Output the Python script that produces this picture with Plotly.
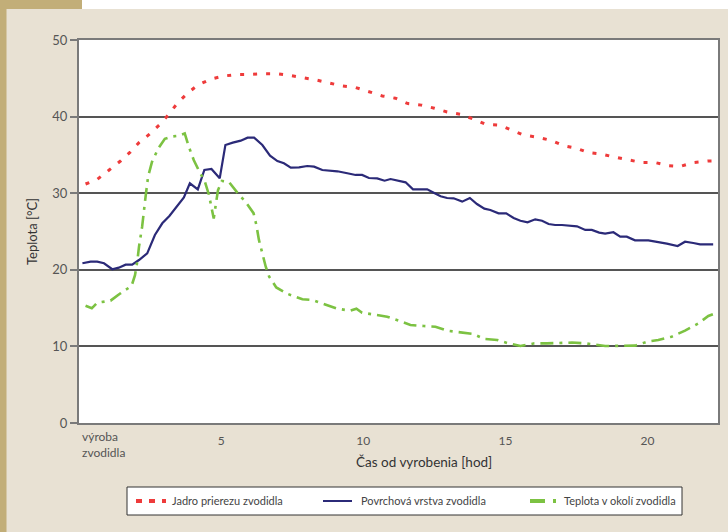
import plotly.graph_objects as go

# ---- data ----
red_x = [0.23, 0.64, 1.05, 1.46, 1.81, 2.11, 2.48, 2.85, 3.16, 3.45, 3.80, 4.17, 4.64, 5.10, 5.57, 5.98, 6.50, 6.95,
         7.39, 7.86, 8.32, 8.79, 9.26, 9.73, 10.20, 10.67, 11.13, 11.57, 12.04, 12.50, 12.95, 13.42, 13.86, 14.30,
         14.79, 15.26, 15.64, 16.13, 16.60, 17.05, 17.48, 17.92, 18.39, 18.86, 19.33, 19.80, 20.27, 20.73, 21.15,
         21.61, 22.14, 22.40]
red_y = [31.2, 31.8, 33.0, 34.2, 35.4, 36.6, 37.7, 39.0, 40.3, 41.7, 43.0, 44.1, 44.9, 45.3, 45.5, 45.5, 45.6, 45.6,
         45.4, 45.1, 44.8, 44.4, 44.0, 43.8, 43.2, 42.7, 42.4, 41.7, 41.5, 41.1, 40.6, 40.3, 39.7, 39.0,
         38.9, 38.2, 37.6, 37.3, 36.9, 36.2, 35.9, 35.3, 35.1, 34.7, 34.4, 34.0, 34.0, 33.6, 33.5,
         34.0, 34.2, 34.2]

blue_x = [0.12, 0.41, 0.64, 0.88, 1.17, 1.40, 1.64, 1.87, 2.11, 2.40, 2.67, 2.93, 3.18, 3.45, 3.69, 3.90, 4.18,
          4.41, 4.66, 4.95, 5.15, 5.41, 5.69, 5.93, 6.16, 6.45, 6.72, 6.98, 7.21, 7.45, 7.74, 8.03, 8.27, 8.56,
          8.85, 9.09, 9.44, 9.73, 9.96, 10.20, 10.49, 10.75, 10.96, 11.25, 11.49, 11.75, 12.01, 12.25, 12.48,
          12.72, 12.95, 13.18, 13.48, 13.75, 14.00, 14.26, 14.47, 14.76, 15.03, 15.29, 15.53, 15.78, 16.05,
          16.29, 16.52, 16.75, 16.99, 17.28, 17.52, 17.81, 18.04, 18.30, 18.51, 18.80, 19.04, 19.27, 19.56,
          20.03, 20.33, 20.68, 21.06, 21.32, 21.61, 21.85, 22.31]
blue_y = [20.85, 21.06, 21.06, 20.85, 20.07, 20.28, 20.67, 20.67, 21.28, 22.15, 24.54, 26.07, 27.02, 28.24, 29.46,
          31.29, 30.50, 33.03, 33.16, 31.94, 36.29, 36.60, 36.86, 37.25, 37.25, 36.29, 34.90, 34.20, 33.90,
          33.33, 33.38, 33.55, 33.46, 33.03, 32.90, 32.86, 32.60, 32.38, 32.38, 31.98, 31.94, 31.63, 31.85,
          31.60, 31.42, 30.50, 30.55, 30.50, 30.07, 29.60, 29.37, 29.33, 28.90, 29.37, 28.59, 27.98, 27.80,
          27.37, 27.37, 26.76, 26.41, 26.20, 26.59, 26.41, 25.98, 25.85, 25.85, 25.72, 25.68, 25.20, 25.20,
          24.85, 24.72, 24.90, 24.33, 24.33, 23.85, 23.85, 23.67, 23.41, 23.11, 23.67, 23.50, 23.33, 23.33]

green_x = [0.23, 0.45, 0.64, 1.11, 1.46, 1.85, 1.97, 2.05, 2.11, 2.22, 2.34, 2.43, 2.57, 2.79, 3.02, 3.28, 3.51,
           3.72, 3.86, 4.04, 4.21, 4.43, 4.57, 4.68, 4.74, 4.80, 4.89, 5.03, 5.27, 5.57, 5.87, 6.14, 6.24, 6.33,
           6.45, 6.57, 6.69, 6.94, 7.35, 7.86, 8.21, 8.65, 9.09, 9.55, 9.76, 9.96, 10.37, 10.84, 11.25, 11.66,
           12.13, 12.54, 12.95, 13.36, 13.86, 14.26, 14.71, 15.11, 15.53, 16.02, 16.46, 17.34, 17.81, 18.51,
           19.10, 19.56, 20.03, 20.38, 20.85, 21.32, 21.79, 22.14, 22.30]
green_y = [15.3, 14.97, 15.7, 15.97, 16.93, 17.9, 19.3, 21.06, 23.0, 25.6, 29.5, 32.15, 34.1, 35.86, 37.1, 37.4,
           37.5, 37.8, 36.1, 34.3, 33.0, 31.5, 29.8, 27.8, 26.7, 28.2, 30.4, 31.6, 31.5, 30.07, 28.8, 27.4,
           25.85, 23.9, 22.2, 20.4, 19.1, 17.7, 16.84, 16.15, 16.06, 15.5, 14.92, 14.66, 14.92, 14.4, 14.2,
           13.88, 13.36, 12.8, 12.66, 12.57, 12.05, 11.88, 11.62, 10.97, 10.84, 10.4, 10.05, 10.4, 10.4, 10.5,
           10.4, 10.05, 10.1, 10.1, 10.66, 10.84, 11.27, 12.05, 13.0, 13.97, 14.2]

names = ["Jadro prierezu zvodidla", "Povrchová vrstva zvodidla", "Teplota v okolí zvodidla"]
x_ticks = [5, 10, 15, 20]
y_ticks = [0, 10, 20, 30, 40, 50]
start_label = "výroba<br>zvodidla"
x_title = "Čas od vyrobenia [hod]"
y_title = "Teplota [°C]"

W, H = 728, 532
L, R, T, B = 79, 10, 40, 109
PW, PH = W - L - R, H - T - B

def px(xp):
    return (xp - L) / PW

def py(yp):
    return 1 - (yp - T) / PH

FONT = "Lato"
GREY = "#555555"
COLORS = ["#ee3b3b", "#2b2a78", "#7cc242"]
DASHES = ["4px,9px", "solid", "13px,6px,3px,6px"]
WIDTHS = [3, 2.2, 2.6]

fig = go.Figure()
for xs, ys, nm, c, d, w in zip([red_x, blue_x, green_x], [red_y, blue_y, green_y], names, COLORS, DASHES, WIDTHS):
    fig.add_trace(go.Scatter(x=xs, y=ys, name=nm, mode="lines", line=dict(color=c, width=w, dash=d)))

shapes = [
    dict(type="rect", xref="paper", yref="paper", x0=px(0), x1=px(6.5), y0=py(H), y1=py(0),
         fillcolor="#c2ae78", line=dict(width=0), layer="above"),
    dict(type="rect", xref="paper", yref="paper", x0=px(0), x1=px(82), y0=py(9), y1=py(0),
         fillcolor="#c2ae78", line=dict(width=0), layer="above"),
    dict(type="rect", xref="paper", yref="paper", x0=px(82), x1=px(W), y0=py(9), y1=py(0),
         fillcolor="#ffffff", line=dict(width=0), layer="above"),
    # legend box
    dict(type="rect", xref="paper", yref="paper", x0=px(127), x1=px(682), y0=py(515), y1=py(487),
         fillcolor="#ffffff", line=dict(color="#333333", width=1), layer="above"),
]
# legend symbols
leg_sym = [(136, 166, "6px,7px", 4), (323, 352, "solid", 2), (530, 557, "15px,8px,3px,8px", 4)]
for (a, b, d, w), c in zip(leg_sym, COLORS):
    shapes.append(dict(type="line", xref="paper", yref="paper", x0=px(a), x1=px(b), y0=py(501), y1=py(501),
                       line=dict(color=c, width=w, dash=d), layer="above"))

annotations = [
    dict(x=0, xref="x", y=py(427), yref="paper", text=start_label, showarrow=False,
         xanchor="left", yanchor="top", align="left", xshift=1,
         font=dict(family=FONT, size=12, color=GREY)),
    dict(x=px(424), xref="paper", y=py(462), yref="paper", text=x_title, showarrow=False,
         xanchor="center", yanchor="middle", font=dict(family=FONT, size=13.5, color="#333333")),
    dict(x=px(32), xref="paper", y=py(231), yref="paper", text=y_title, showarrow=False, textangle=-90,
         xanchor="center", yanchor="middle", font=dict(family=FONT, size=13, color="#333333")),
]
for nm, xs in zip(names, [172, 361, 564]):
    annotations.append(dict(x=px(xs), xref="paper", y=py(501), yref="paper", text=nm, showarrow=False,
                            xanchor="left", yanchor="middle", xshift=-2,
                            font=dict(family=FONT, size=11, color="#444444")))

fig.update_layout(
    width=W, height=H,
    margin=dict(l=L, r=R, t=T, b=B, pad=0, autoexpand=False),
    paper_bgcolor="#e8e1d3",
    plot_bgcolor="#ffffff",
    font=dict(family=FONT, size=12, color=GREY),
    showlegend=False,
    shapes=shapes,
    annotations=annotations,
    xaxis=dict(range=[0, 22.48], tickvals=x_ticks, ticks="", showgrid=False, zeroline=False,
               showline=True, mirror=True, linecolor="#7a7a7a", linewidth=2, ticklabelstandoff=6,
               tickfont=dict(family=FONT, size=12, color=GREY)),
    yaxis=dict(range=[0, 50], tickvals=y_ticks, ticks="outside", ticklen=7, tickcolor="#7a7a7a",
               tickwidth=1.5, showgrid=True, gridcolor="#555555", gridwidth=1.5, zeroline=False,
               showline=True, mirror=True, linecolor="#7a7a7a", linewidth=2,
               tickfont=dict(family=FONT, size=13, color=GREY)),
)

fig.write_html("out.html", post_script="document.body.style.margin='0px';",
               config={"displayModeBar": False})
